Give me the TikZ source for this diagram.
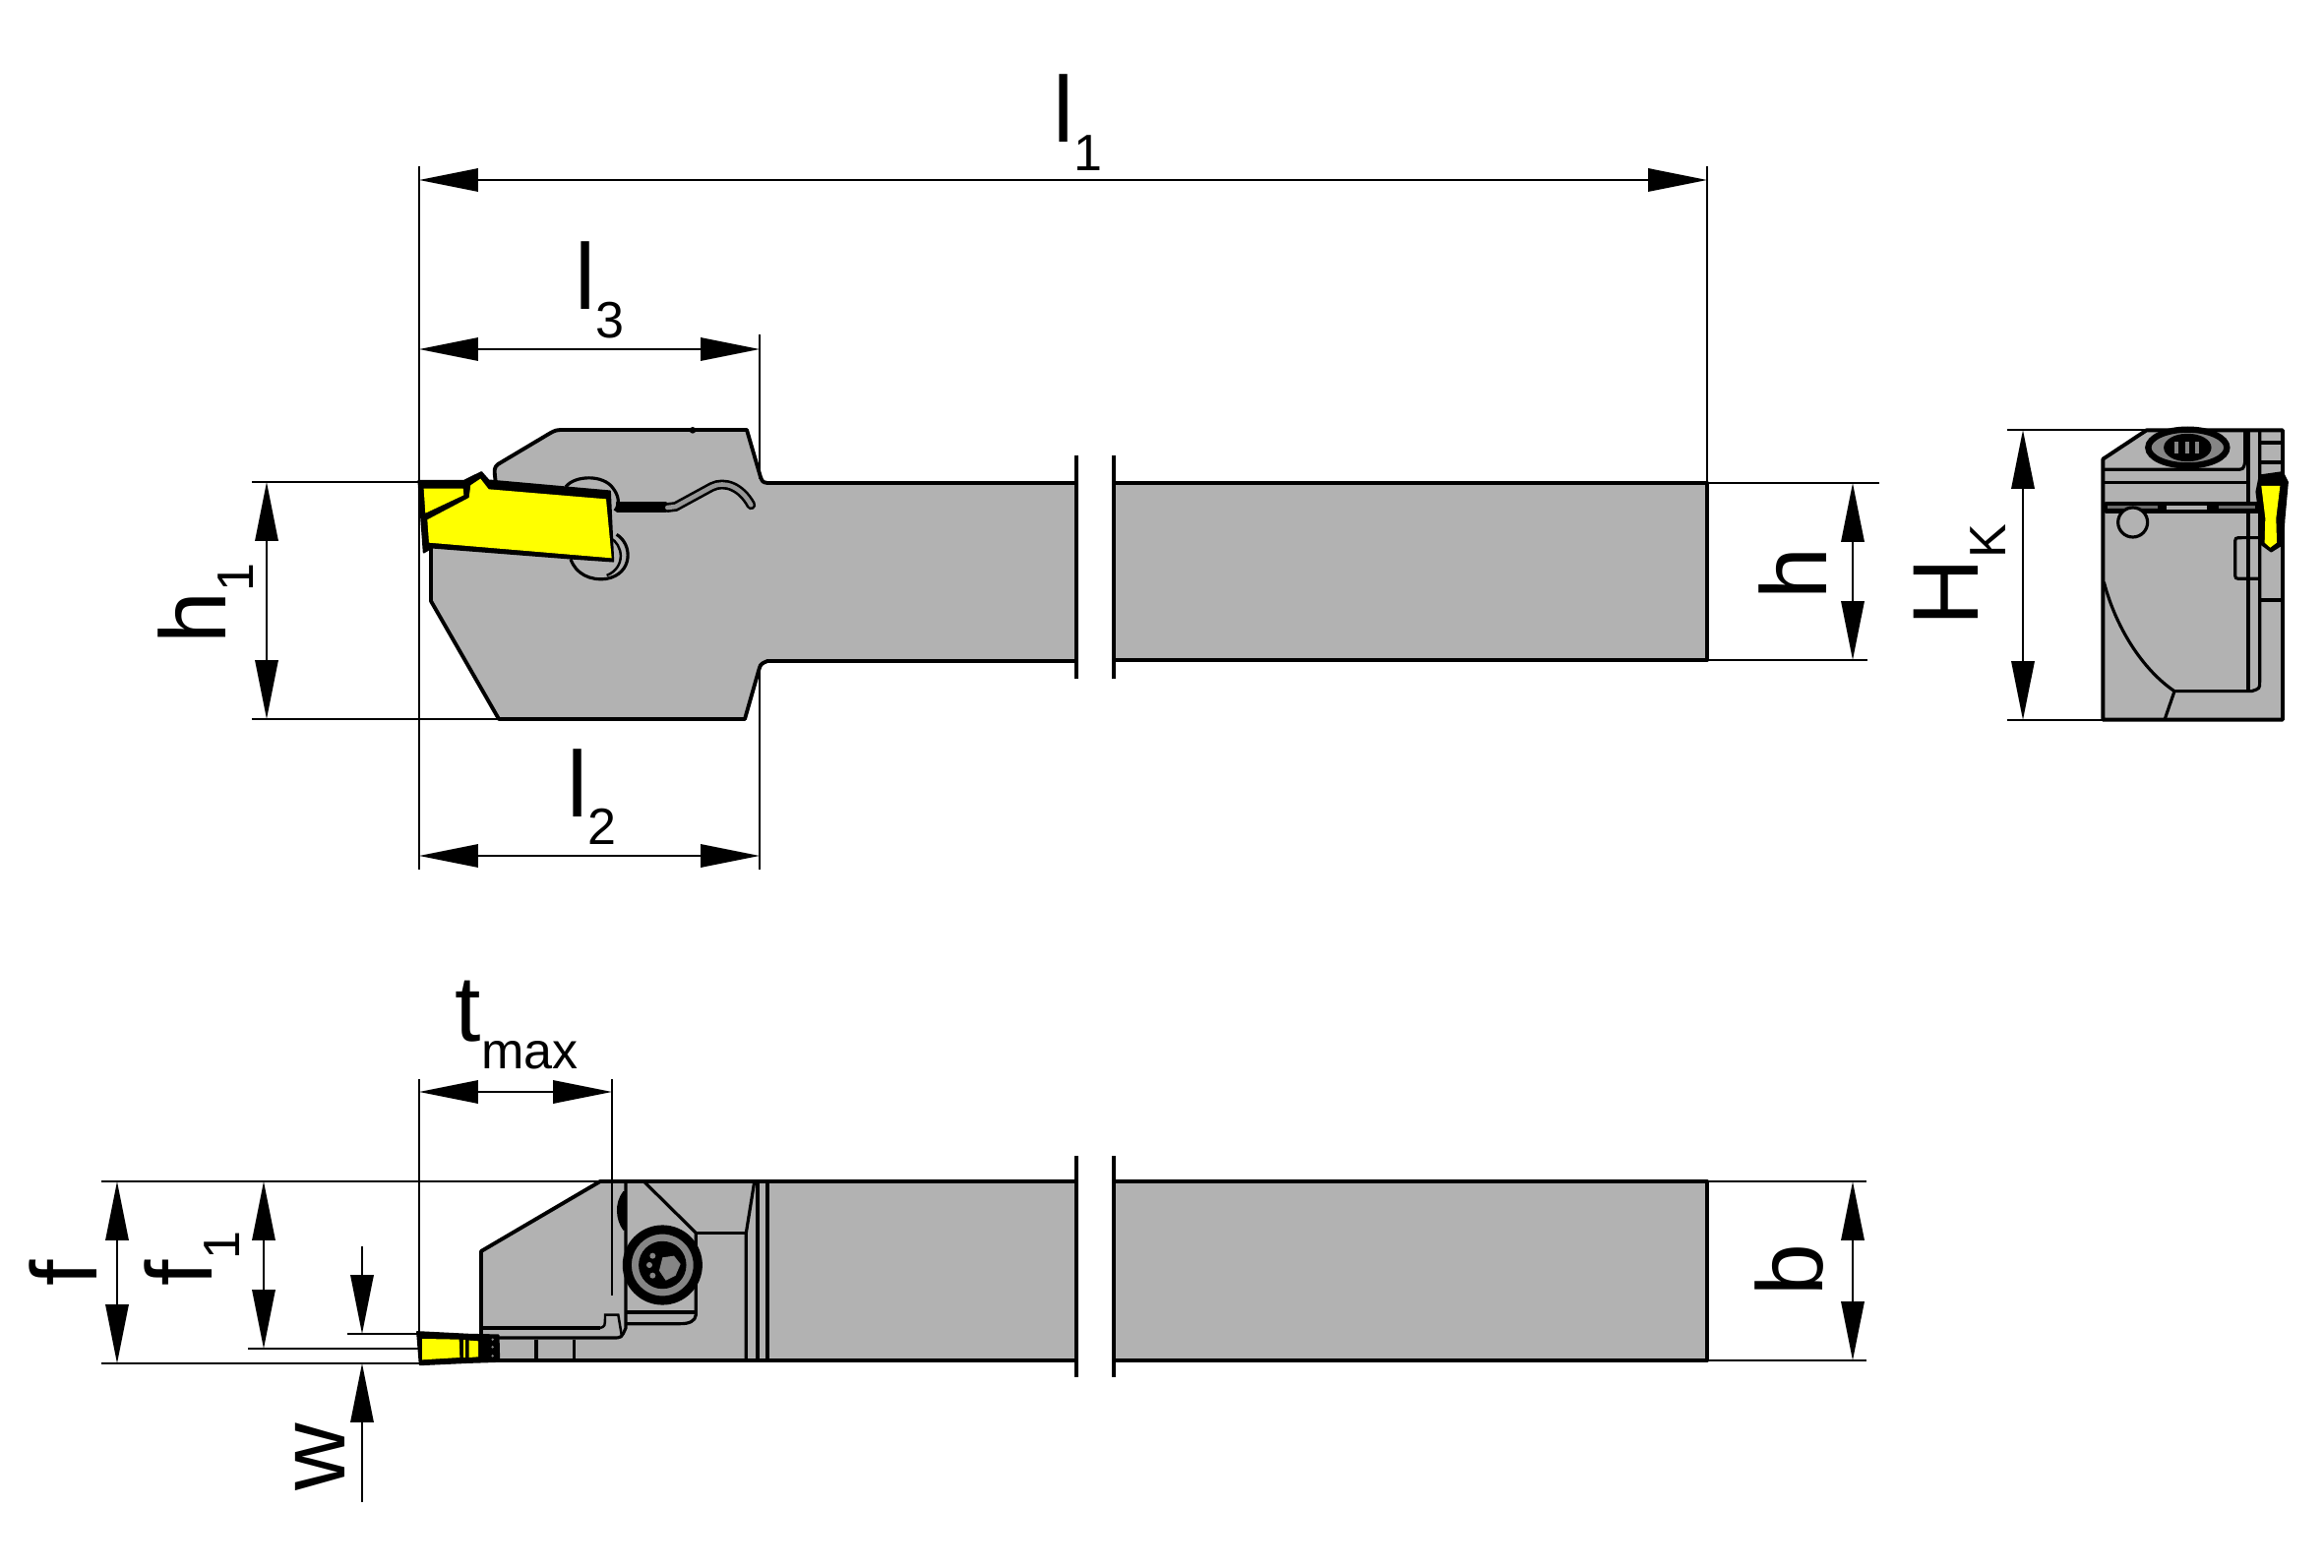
\documentclass[tikz,border=0pt]{standalone}
\usepackage{fontspec}
\setmainfont{Liberation Sans}
\usepackage{xcolor}
\usepackage{tikz}
\usetikzlibrary{arrows.meta,calc}

\definecolor{toolgray}{HTML}{B2B2B2}
\definecolor{ringgray}{HTML}{858585}
\definecolor{insertyellow}{HTML}{FFFF00}

% label with a dropped index
\newcommand{\dimsub}[2]{#1\raisebox{-8pt}{\fontsize{14.8}{14.8}\selectfont #2}}

\begin{document}
\begin{tikzpicture}[
        x=0.01cm, y=-0.01cm,
        % Styles for the drawing
        body/.style={draw=black, line width=1.1pt, fill=toolgray, line join=round},
        detail/.style={draw=black, line width=0.9pt},
        blackpart/.style={fill=black, draw=black, line width=0.5pt, line join=round},
        yellowpart/.style={fill=insertyellow},
        extline/.style={draw=black, line width=0.7pt},
        breakline/.style={draw=black, line width=1pt},
        dimarrow/.style={draw=black, line width=0.7pt, {Triangle[length=17pt,width=6.6pt]}-{Triangle[length=17pt,width=6.6pt]}},
        onearrow/.style={draw=black, line width=0.7pt, -{Triangle[length=17pt,width=6.6pt]}},
        dimlabel/.style={font=\fontsize{27}{27}\selectfont, inner sep=0pt, anchor=base west},
        dimlabelv/.style={dimlabel, rotate=90}
      ]
      \useasboundingbox (0,0) rectangle (2362,1594);

      % Upper view: holder and shank
      \path[body] (438,555) -- (438,611) -- (507,731) -- (757,731) -- (771,682)
        .. controls (773,675) .. (780,672) -- (1094,672) -- (1094,491) -- (780,491)
        .. controls (775,490) .. (773,485) -- (759,437) -- (575,437)
        .. controls (565,437) .. (558,441) -- (506,472)
        .. controls (502,476) .. (504,492) -- cycle;
      \path[body] (1132,491) rectangle (1735,671);

      \begin{scope}[shift={(400,400)}, scale=1/3]
        % Clamp hole and coolant channel
        \draw[detail] (525,285) .. controls (550,250) and (640,245) .. (670,290) .. controls (685,310) and (692,335) .. (675,358);
        \draw[detail] (680,430) .. controls (730,460) and (730,550) .. (650,565) .. controls (600,572) and (555,550) .. (540,505);
        \draw[detail, line width=0.7pt] (660,440) .. controls (700,460) and (710,530) .. (650,555);
        \path[blackpart] (680,334) -- (830,334) -- (830,360) -- (680,360) -- cycle;
        \draw[draw=black, line width=2.8pt, line cap=round] (835,348) -- (860,345) -- (970,285) .. controls (1010,265) and (1060,285) .. (1090,340);
        \draw[draw=toolgray!85!black, line width=1.3pt, line cap=round] (835,348) -- (860,345) -- (970,285) .. controls (1010,265) and (1060,285) .. (1090,340);
        \fill[black] (912,112) circle (10);
        % Insert
        \path[blackpart] (76,266) -- (215,266) -- (268,240) -- (290,265) -- (660,298)
          -- (670,512) -- (540,503) -- (118,470) -- (92,485) -- cycle;
        \path[yellowpart] (92,290) -- (212,290) -- (214,310) -- (97,365) -- cycle;
        \path[yellowpart] (103,385) -- (230,318) -- (235,280) -- (265,260) -- (290,292)
          -- (648,322) -- (665,502) -- (108,455) -- cycle;
      \end{scope}

      % Break lines, upper view
      \foreach \xb/\segs in {1094/{463/553,563/575,583/640,645/652,658/690},
                             1132/{463/518,527/537,545/618,625/632,640/690}} {
        \foreach \ya/\yb in \segs {
          \draw[breakline] (\xb,\ya) -- (\xb,\yb);
        }
      }

      % Side view, end of the holder
      \begin{scope}[shift={(2100,420)}, scale=1/3]
        \path[body] (112,140) -- (245,52) -- (660,52) -- (660,935) -- (112,935) -- cycle;
        \draw[detail] (112,172) -- (515,172) .. controls (540,172) .. (545,150) -- (545,55);
        \draw[detail] (112,212) -- (560,212);
        \draw[detail] (555,55) -- (555,845);
        \draw[detail] (590,55) -- (590,820) .. controls (590,840) .. (565,848) -- (330,848);
        \draw[detail] (115,515) .. controls (150,650) and (230,780) .. (330,848) -- (300,935);
        \foreach \yr in {90,150,570} {
          \draw[detail] (595,\yr) -- (655,\yr);
        }
        \path[blackpart] (120,272) rectangle (585,302);
        \path[fill=toolgray!60!black] (125,283) rectangle (280,291);
        \path[fill=toolgray] (305,281) rectangle (430,294);
        \path[fill=toolgray!60!black] (465,283) rectangle (575,291);
        \draw[detail, fill=toolgray] (203,333) circle (45);
        \draw[draw=black, line width=1.8pt, fill=ringgray] (370,105) ellipse (120 and 55);
        \path[blackpart] (370,105) ellipse (70 and 40);
        \foreach \xs in {335,368,400} {
          \path[fill=ringgray] (\xs-6,88) rectangle (\xs+6,122);
        }
        \draw[detail] (585,380) -- (535,380) .. controls (515,380) .. (515,400) -- (515,485) .. controls (515,505) .. (535,505) -- (585,505);
        \path[blackpart] (590,190) -- (660,180) -- (675,210) -- (665,320) -- (660,400) -- (625,422)
          -- (595,400) -- (590,320) -- (580,240) -- cycle;
        \path[yellowpart] (595,222) -- (652,222) -- (640,320) -- (642,395) -- (622,410)
          -- (605,395) -- (607,320) -- cycle;
      \end{scope}

      % Lower view
      \path[body] (489,1272) -- (610,1201) -- (1094,1201) -- (1094,1383) -- (489,1383) -- cycle;
      \path[body] (1132,1201) rectangle (1735,1383);

      \begin{scope}[shift={(330,1180)}, scale=1/3]
        \draw[detail] (480,510) -- (840,510);
        \draw[detail] (480,540) -- (880,540) .. controls (905,540) .. (918,510) -- (918,65);
        \path[blackpart] (912,95) .. controls (885,130) and (890,180) .. (912,210) -- cycle;
        \draw[detail, line width=0.7pt] (840,510) .. controls (855,505) .. (855,470) -- (895,470) -- (905,530);
        \draw[detail] (975,65) -- (1132,220) -- (1132,470) .. controls (1130,490) and (1110,497) .. (1085,497) -- (920,497);
        \draw[detail] (920,462) -- (1132,462);
        \draw[detail] (1132,220) -- (1285,220);
        \draw[detail] (1310,65) -- (1285,220) -- (1285,608);
        \foreach \xr in {1320,1350} {
          \draw[detail] (\xr,65) -- (\xr,608);
        }
        \foreach \xr in {645,760} {
          \draw[detail] (\xr,545) -- (\xr,608);
        }
        % Clamp screw
        \draw[draw=black, line width=2.6pt, fill=ringgray] (1030,318) circle (108);
        \path[blackpart] (1030,318) circle (70);
        \path[fill=ringgray] (1065,290) -- (1085,315) -- (1070,350) -- (1040,365) -- (1020,335) -- (1030,295) -- cycle;
        \foreach \xd/\yd in {1000/290,990/318,1000/350} {
          \fill[ringgray] (\xd,\yd) circle (9);
        }
        % Insert
        \path[blackpart] (282,522) -- (440,530) -- (530,532) -- (532,612) -- (440,615) -- (290,622) -- cycle;
        \path[yellowpart] (297,543) -- (410,545) -- (412,600) -- (297,607) -- cycle;
        \path[yellowpart] (423,547) -- (430,547) -- (430,600) -- (423,600) -- cycle;
        \path[yellowpart] (440,548) -- (468,550) -- (468,598) -- (440,600) -- cycle;
        \foreach \yd in {545,568,595} {
          \fill[ringgray] (512,\yd) circle (4);
        }
      \end{scope}

      % Break lines, lower view
      \foreach \xb/\segs in {1094/{1175/1250,1258/1270,1278/1340,1345/1352,1358/1400},
                             1132/{1175/1225,1233/1243,1250/1325,1332/1338,1346/1400}} {
        \foreach \ya/\yb in \segs {
          \draw[breakline] (\xb,\ya) -- (\xb,\yb);
        }
      }

      % Anchor points of the dimensions
      \coordinate (lleftT) at (426,169);
      \coordinate (lleftB) at (426,884);
      \coordinate (lrightT) at (1735,169);
      \coordinate (lrightB) at (1735,491);
      \coordinate (lmidT) at (772,340);
      \coordinate (lmidA) at (772,487);
      \coordinate (lmidC) at (772,675);
      \coordinate (lmidB) at (772,884);
      \coordinate (tleftT) at (426,1097);
      \coordinate (tleftB) at (426,1356);
      \coordinate (trightT) at (622,1097);
      \coordinate (trightB) at (622,1317);

      % Extension lines
      \draw[extline] (lleftT) -- (lleftB);
      \draw[extline] (lrightT) -- (lrightB);
      \draw[extline] (lmidT) -- (lmidA);
      \draw[extline] (lmidC) -- (lmidB);
      \draw[extline] (tleftT) -- (tleftB);
      \draw[extline] (trightT) -- (trightB);
      \foreach \xa/\ya/\xb/\yb in {256/490/426/490, 256/731/507/731, 1735/491/1910/491, 1735/671/1898/671,
                                   2040/437/2182/437, 2040/732/2137/732,
                                   103/1201/610/1201, 103/1386/426/1386, 252/1371/426/1371, 353/1356/426/1356,
                                   1735/1201/1897/1201, 1735/1383/1897/1383} {
        \draw[extline] (\xa,\ya) -- (\xb,\yb);
      }

      % Dimension arrows
      \coordinate (dimlA) at (426,183);
      \coordinate (dimlB) at (1735,183);
      \coordinate (dimtA) at (426,355);
      \coordinate (dimtB) at (772,355);
      \coordinate (dimuA) at (426,870);
      \coordinate (dimuB) at (772,870);
      \coordinate (dimmA) at (426,1110);
      \coordinate (dimmB) at (622,1110);
      \draw[dimarrow] (dimlA) -- (dimlB);
      \draw[dimarrow] (dimtA) -- (dimtB);
      \draw[dimarrow] (dimuA) -- (dimuB);
      \draw[dimarrow] (dimmA) -- (dimmB);
      \foreach \xd/\ya/\yb in {271/490/731, 1883/491/671, 2056/437/732, 119/1201/1386, 268/1201/1371, 1883/1201/1383} {
        \draw[dimarrow] (\xd,\ya) -- (\xd,\yb);
      }
      \draw[onearrow] (368,1267) -- (368,1356);
      \draw[onearrow] (368,1527) -- (368,1386);

      % Labels
      \node[dimlabel] (labelone) at (1070,145) {\dimsub{l}{1}};
      \node[dimlabel] (labelthree) at (584,315) {\dimsub{l}{3}};
      \node[dimlabel] (labeltwo) at (576,830) {\dimsub{l}{2}};
      \node[dimlabel] (labelt) at (462,1058) {\dimsub{t}{max}};
      \node[dimlabelv] (labelhone) at (229,655) {\dimsub{h}{1}};
      \node[dimlabelv] (labelh) at (1856,610) {h};
      \node[dimlabelv] (labelhk) at (2010,637) {\dimsub{H}{K}};
      \node[dimlabelv] (labelf) at (98,1308) {f};
      \node[dimlabelv] (labelfone) at (215,1308) {\dimsub{f}{1}};
      \node[dimlabelv] (labelw) at (350,1516) {w};
      \node[dimlabelv] (labelb) at (1852,1318) {b};
    \end{tikzpicture}
\end{document}
